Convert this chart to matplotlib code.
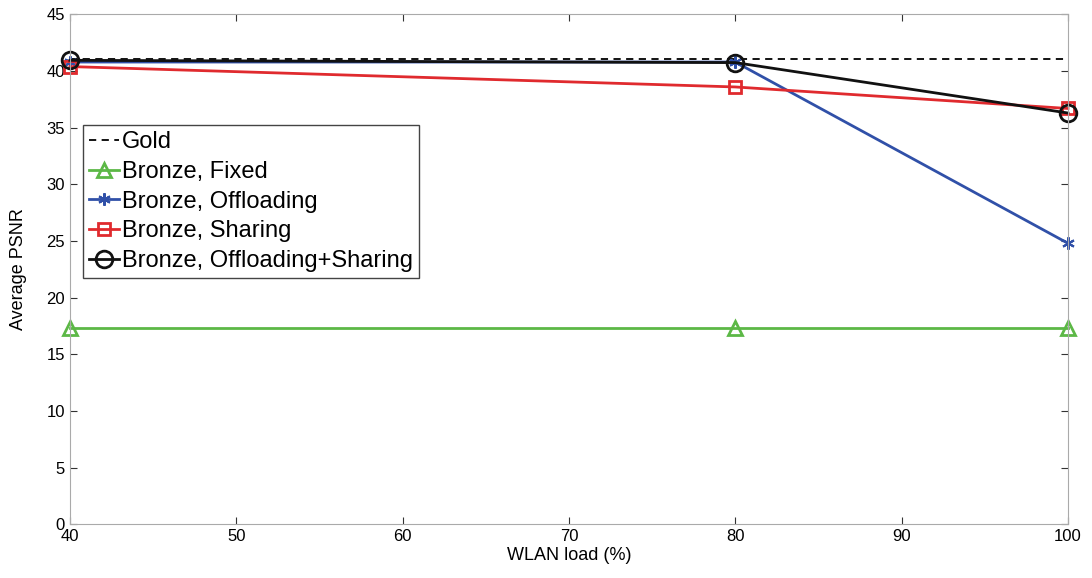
import matplotlib
matplotlib.use('Agg')
import matplotlib.pyplot as plt

plt.rcParams['font.family'] = ['Liberation Sans', 'DejaVu Sans']

load = [40, 80, 100]
gold = [41.1, 41.1, 41.1]
fixed = [17.3, 17.3, 17.3]
offloading = [40.8, 40.8, 24.8]
sharing = [40.4, 38.6, 36.7]
off_sharing = [40.95, 40.75, 36.3]

fig = plt.figure(figsize=(10.92, 5.78), dpi=100)
ax = fig.add_axes([0.064, 0.093, 0.914, 0.882])

ax.plot(load, gold, 'k--', lw=1.3, dashes=(4, 3), label='Gold')
ax.plot(load, fixed, color='#5cb846', lw=2, marker='^', ms=10, mfc='none',
        mew=2, label='Bronze, Fixed', clip_on=False)
ax.plot(load, offloading, color='#3050a8', lw=2, marker=(6, 2, 0), ms=9,
        mew=1.5, label='Bronze, Offloading', clip_on=False)
ax.plot(load, sharing, color='#e02a2e', lw=2, marker='s', ms=9, mfc='none',
        mew=2, label='Bronze, Sharing', clip_on=False)
ax.plot(load, off_sharing, color='#111111', lw=2, marker='o', ms=12,
        mfc='none', mew=2, label='Bronze, Offloading+Sharing', clip_on=False)

ax.set_xlim(40, 100)
ax.set_ylim(0, 45)
ax.set_xticks(range(40, 101, 10))
ax.set_yticks(range(0, 46, 5))
ax.tick_params(direction='in', top=True, right=True, labelsize=12,
               color='#333333', length=5)
for s in ax.spines.values():
    s.set_color('#aaaaaa')
ax.set_xlabel('WLAN load (%)', fontsize=13, labelpad=2)
ax.set_ylabel('Average PSNR', fontsize=13, labelpad=14)

leg = ax.legend(loc='upper left', bbox_to_anchor=(0.013, 0.783), fontsize=17,
                handlelength=1.3, handletextpad=0.1, borderpad=0.25,
                labelspacing=0.33, fancybox=False, framealpha=1,
                borderaxespad=0)
leg.get_frame().set_edgecolor('#444444')

plt.savefig('out.png', dpi=100)
